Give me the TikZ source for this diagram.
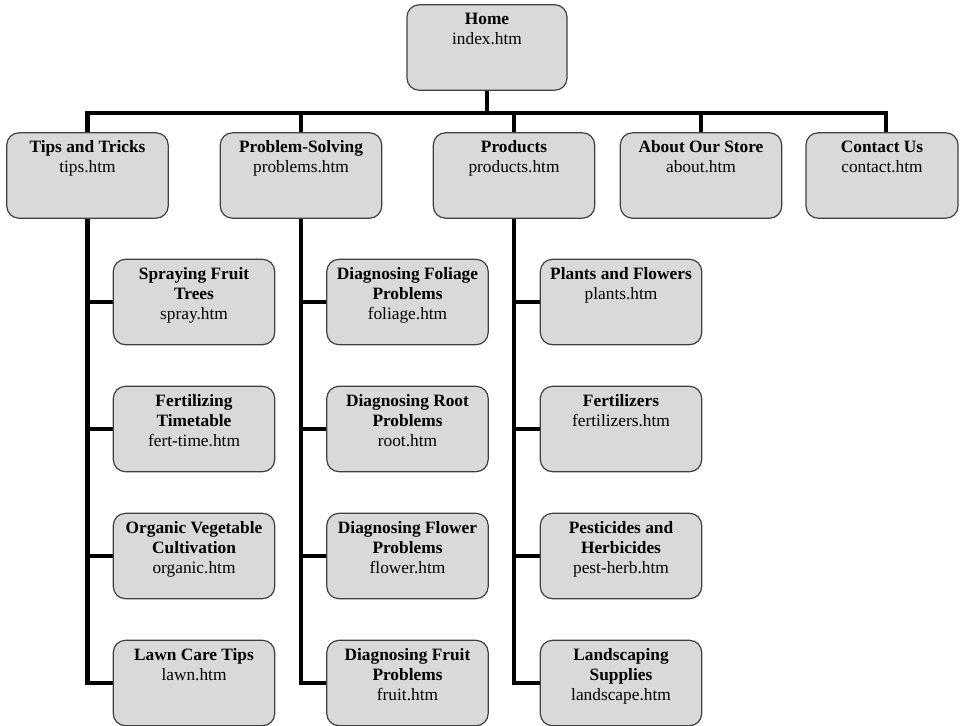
\documentclass[tikz,border=0pt]{standalone}
\usepackage{fontspec}
\setmainfont{Liberation Serif}
\usetikzlibrary{backgrounds}
\definecolor{boxfill}{HTML}{D9D9D9}
\definecolor{boxline}{HTML}{404040}
\newcommand{\boxtext}[3]{\parbox[c][64pt][t]{#1}{\centering\rule{0pt}{15pt}\textbf{#2}\\#3}}
\begin{document}
\begin{tikzpicture}[x=0.75pt,y=-0.75pt,
  pagebox/.style={draw=boxline, line width=0.9pt, fill=boxfill, rounded corners=9pt,
    inner sep=0pt, font=\fontsize{13}{15}\selectfont},
  conn/.style={line width=3.4pt, black, line join=miter}]
\useasboundingbox (0,0) rectangle (960,725);

% top
\node[pagebox] (home) at (487,47.5) {\boxtext{120pt}{Home}{index.htm}};

% level 1
\node[pagebox] (tips) at (87.5,175.5) {\boxtext{121pt}{Tips and Tricks}{tips.htm}};
\node[pagebox] (prob) at (301,175.5) {\boxtext{121pt}{Problem-Solving}{problems.htm}};
\node[pagebox] (prod) at (514,175.5) {\boxtext{121pt}{Products}{products.htm}};
\node[pagebox] (about) at (701,175.5) {\boxtext{121pt}{About Our Store}{about.htm}};
\node[pagebox] (contact) at (882,175.5) {\boxtext{114pt}{Contact Us}{contact.htm}};

% tips children
\node[pagebox] (spray) at (194,302) {\boxtext{121pt}{Spraying Fruit\\Trees}{spray.htm}};
\node[pagebox] (fert) at (194,429) {\boxtext{121pt}{Fertilizing\\Timetable}{fert-time.htm}};
\node[pagebox] (organic) at (194,556) {\boxtext{121pt}{Organic Vegetable\\Cultivation}{organic.htm}};
\node[pagebox] (lawn) at (194,683) {\boxtext{121pt}{Lawn Care Tips}{lawn.htm}};

% problem children
\node[pagebox] (foliage) at (407.5,302) {\boxtext{121pt}{Diagnosing Foliage\\Problems}{foliage.htm}};
\node[pagebox] (root) at (407.5,429) {\boxtext{121pt}{Diagnosing Root\\Problems}{root.htm}};
\node[pagebox] (flower) at (407.5,556) {\boxtext{121pt}{Diagnosing Flower\\Problems}{flower.htm}};
\node[pagebox] (fruit) at (407.5,683) {\boxtext{121pt}{Diagnosing Fruit\\Problems}{fruit.htm}};

% products children
\node[pagebox] (plants) at (621,302) {\boxtext{121pt}{Plants and Flowers}{plants.htm}};
\node[pagebox] (fertz) at (621,429) {\boxtext{121pt}{Fertilizers}{fertilizers.htm}};
\node[pagebox] (pest) at (621,556) {\boxtext{121pt}{Pesticides and\\Herbicides}{pest-herb.htm}};
\node[pagebox] (land) at (621,683) {\boxtext{121pt}{Landscaping\\Supplies}{landscape.htm}};

\coordinate (bar) at (487,113);

\begin{scope}[on background layer]
  \draw[conn] (home.south) -- (bar);
  \draw[conn] (tips.north) |- (bar) -| ([xshift=3pt]contact.north);
  \draw[conn] (prob.north) -- (prob.north |- bar);
  \draw[conn] (prod.north) -- (prod.north |- bar);
  \draw[conn] (about.north) -- (about.north |- bar);

  \draw[conn] (tips.south) |- (lawn.west);
  \draw[conn] (tips.south |- spray.west) -- (spray.west);
  \draw[conn] (tips.south |- fert.west) -- (fert.west);
  \draw[conn] (tips.south |- organic.west) -- (organic.west);

  \draw[conn] (prob.south) |- (fruit.west);
  \draw[conn] (prob.south |- foliage.west) -- (foliage.west);
  \draw[conn] (prob.south |- root.west) -- (root.west);
  \draw[conn] (prob.south |- flower.west) -- (flower.west);

  \draw[conn] (prod.south) |- (land.west);
  \draw[conn] (prod.south |- plants.west) -- (plants.west);
  \draw[conn] (prod.south |- fertz.west) -- (fertz.west);
  \draw[conn] (prod.south |- pest.west) -- (pest.west);
\end{scope}
\end{tikzpicture}
\end{document}
